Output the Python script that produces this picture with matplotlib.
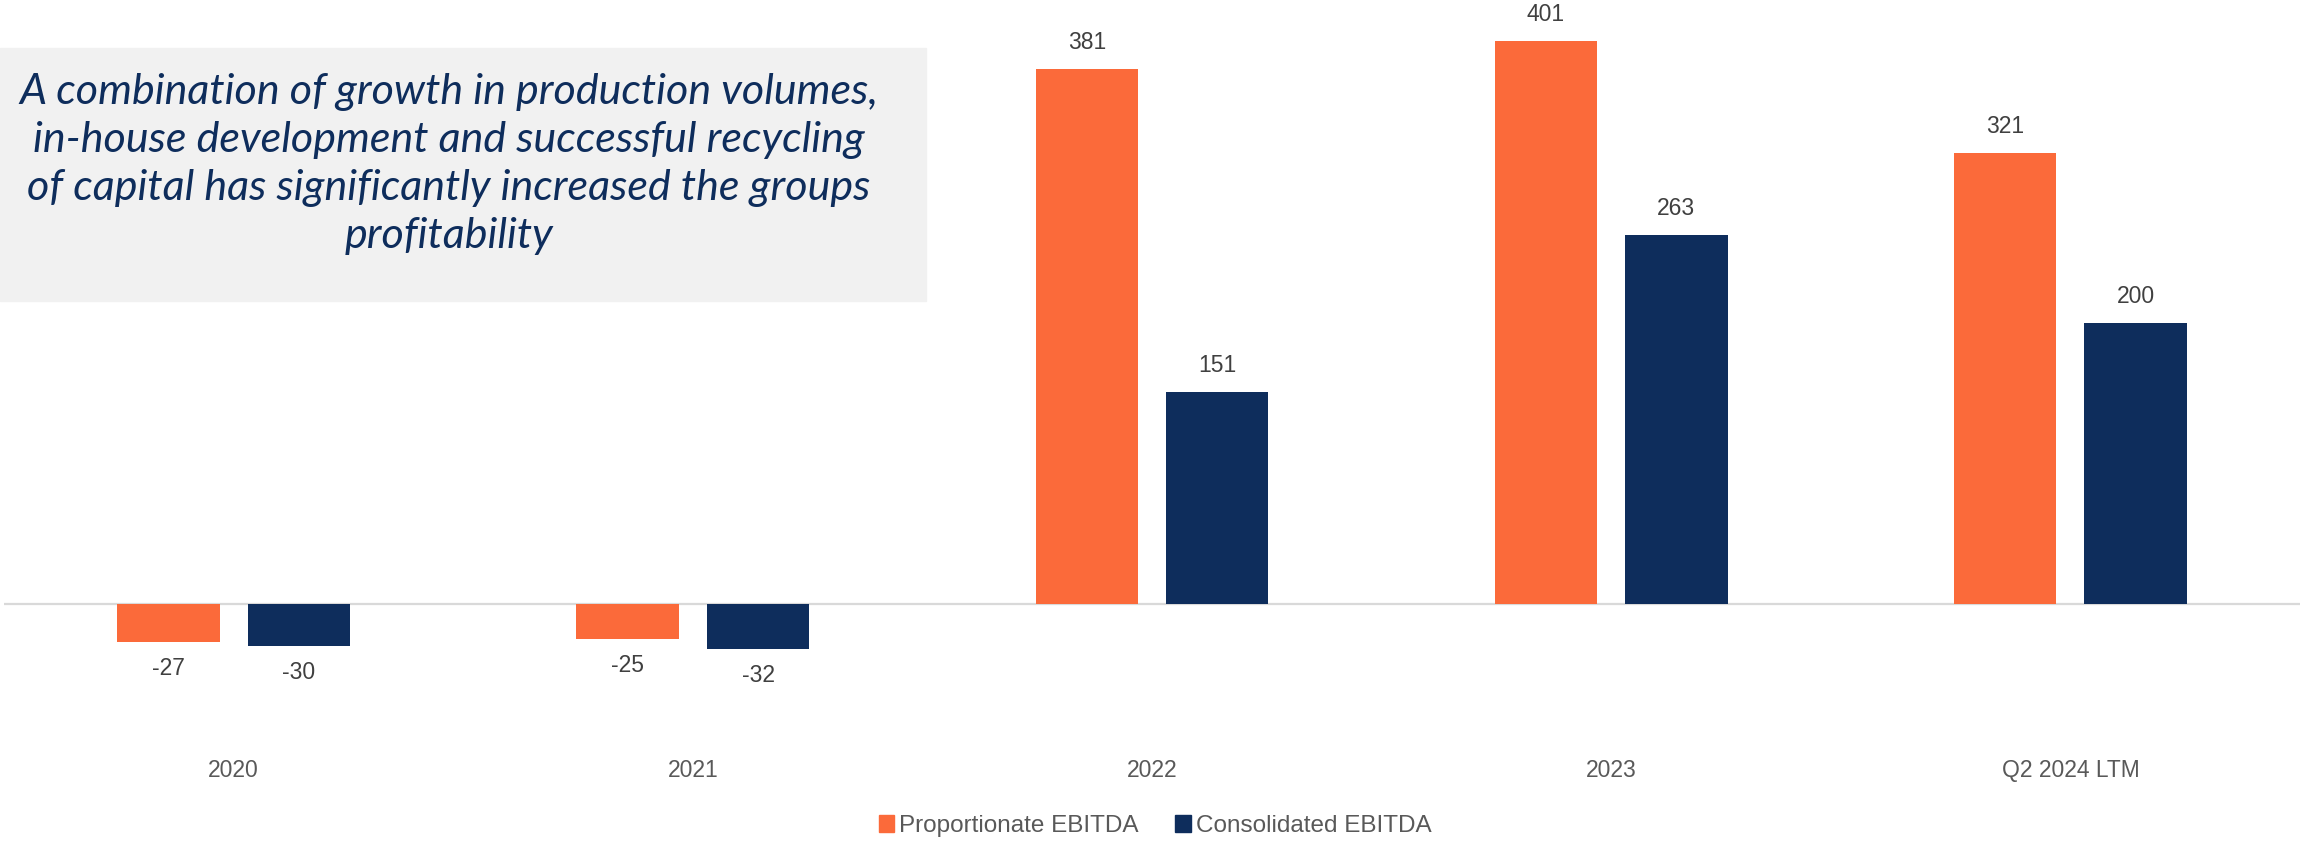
import matplotlib
matplotlib.use("Agg")
import matplotlib.pyplot as plt
from matplotlib.patches import Rectangle, Patch
import numpy as np

categories = ["2020", "2021", "2022", "2023", "Q2 2024 LTM"]
proportionate = [-27, -25, 381, 401, 321]
consolidated = [-30, -32, 151, 263, 200]
series_names = ["Proportionate EBITDA", "Consolidated EBITDA"]
note = ("A combination of growth in production volumes,\n"
        "in-house development and successful recycling\n"
        "of capital has significantly increased the groups\n"
        "profitability")

ORANGE = "#FB6A3A"
NAVY = "#0E2D5C"
W, H = 2305, 842
fig = plt.figure(figsize=(W / 100, H / 100), dpi=100)
plt.rcParams["font.family"] = ["Liberation Sans", "DejaVu Sans"]

ax = fig.add_axes([4 / W, 1 - 742 / H, 2296 / W, 742 / H])
ax.set_xlim(-0.5, len(categories) - 0.5)
ax.set_ylim(-98.3, 430)
x = np.arange(len(categories))
bw = 0.223
off = 0.142
b1 = ax.bar(x - off, proportionate, bw, color=ORANGE, zorder=2)
b2 = ax.bar(x + off, consolidated, bw, color=NAVY, zorder=2)
ax.axhline(0, color="#D9D9D9", lw=1.6, zorder=1)

for bars, vals in ((b1, proportionate), (b2, consolidated)):
    for r, v in zip(bars, vals):
        cx = r.get_x() + r.get_width() / 2
        ax.annotate(f"{v}", (cx, v), xytext=(0, 19 if v >= 0 else -19),
                    textcoords="offset points", ha="center", va="center",
                    fontsize=16.5, color="#404040")

ax.set_xticks(x)
ax.set_xticklabels(categories, fontsize=16.5, color="#595959")
ax.tick_params(axis="x", length=0, pad=12)
ax.set_yticks([])
for s in ax.spines.values():
    s.set_visible(False)
ax.patch.set_alpha(0)

# note box
fig.patches.append(Rectangle((0, 1 - 301 / H), 926 / W, 253 / H,
                             transform=fig.transFigure, color="#F1F1F1", zorder=0))
fig.text(449 / W, 1 - 164 / H, note, ha="center", va="center",
         fontsize=31, style="italic", color=NAVY, linespacing=1.32,
         family=["Lato", "DejaVu Sans"])

handles = [Patch(color=ORANGE), Patch(color=NAVY)]
fig.legend(handles, series_names, loc="center", bbox_to_anchor=(1155 / W, 1 - 826 / H),
           ncol=2, frameon=False, fontsize=17.5, handlelength=0.65, handleheight=0.65,
           handletextpad=0.2, columnspacing=1.5, labelcolor="#595959")

fig.savefig("out.png", dpi=100)
